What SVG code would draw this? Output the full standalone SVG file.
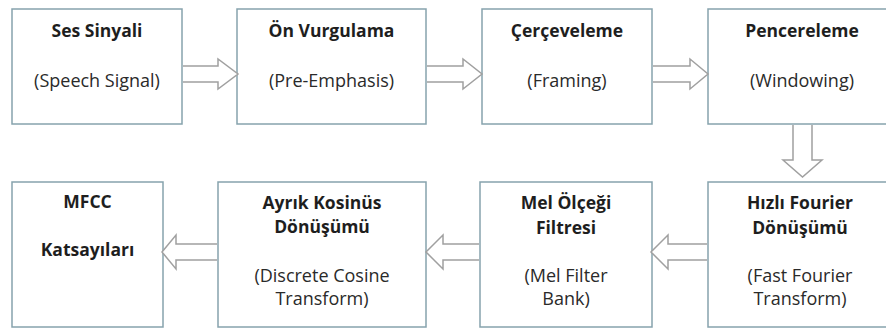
<svg xmlns="http://www.w3.org/2000/svg" width="886" height="329" viewBox="0 0 886 329">
<style>
.box{fill:#ffffff;stroke:#86a3ad;stroke-width:1.5}
.arr{fill:#ffffff;stroke:#a0a0a0;stroke-width:1.5;stroke-linejoin:miter}
text{font-family:"Open Sans","Noto Sans","DejaVu Sans",sans-serif;font-size:18px;fill:#2a2a2a;text-anchor:middle}
.t{font-weight:bold;font-size:17.5px;fill:#1e1e1e}
</style>
<rect width="886" height="329" fill="#ffffff"/>
<g id="n1"><rect class="box" x="12" y="9" width="170" height="115"/><text class="t" x="97" y="37">Ses Sinyali</text><text x="97" y="87">(Speech Signal)</text></g>
<g id="n2"><rect class="box" x="237" y="9" width="189" height="115"/><text class="t" x="331.5" y="37">Ön Vurgulama</text><text x="331.5" y="87">(Pre-Emphasis)</text></g>
<g id="n3"><rect class="box" x="482" y="9" width="170" height="115"/><text class="t" x="567" y="37">Çerçeveleme</text><text x="567" y="87">(Framing)</text></g>
<g id="n4"><rect class="box" x="708" y="9" width="188" height="115"/><text class="t" x="802" y="37">Pencereleme</text><text x="802" y="87">(Windowing)</text></g>
<g id="n5"><rect class="box" x="708" y="182" width="188" height="145"/><text class="t" x="800" y="209">Hızlı Fourier</text><text class="t" x="800" y="234">Dönüşümü</text><text x="800" y="282">(Fast Fourier</text><text x="800" y="305">Transform)</text></g>
<g id="n6"><rect class="box" x="480" y="182" width="172" height="145"/><text class="t" x="566" y="209">Mel Ölçeği</text><text class="t" x="566" y="234">Filtresi</text><text x="566" y="282">(Mel Filter</text><text x="566" y="305">Bank)</text></g>
<g id="n7"><rect class="box" x="218" y="182" width="208" height="145"/><text class="t" x="322" y="209">Ayrık Kosinüs</text><text class="t" x="322" y="233">Dönüşümü</text><text x="322" y="282">(Discrete Cosine</text><text x="322" y="305">Transform)</text></g>
<g id="n8"><rect class="box" x="12" y="182" width="151" height="145"/><text class="t" x="87.5" y="208">MFCC</text><text class="t" x="87.5" y="256">Katsayıları</text></g>
<g id="connectors">
<path class="arr" d="M183,66 H218 V59 L238,74 L218,89 V82 H183"/>
<path class="arr" d="M427,66 H463 V59 L482,74 L463,89 V82 H427"/>
<path class="arr" d="M653,66 H690 V59 L708,74 L690,89 V82 H653"/>
<path class="arr" d="M793,125 V160 H783 L802.5,177 L822,160 H812 V125"/>
<path class="arr" d="M707,244 H668 V235 L651,252 L668,269 V260 H707"/>
<path class="arr" d="M479,244 H443 V235 L426,252 L443,269 V260 H479"/>
<path class="arr" d="M217,244 H176 V235 L162,252 L176,269 V260 H217"/>
</g>
</svg>
